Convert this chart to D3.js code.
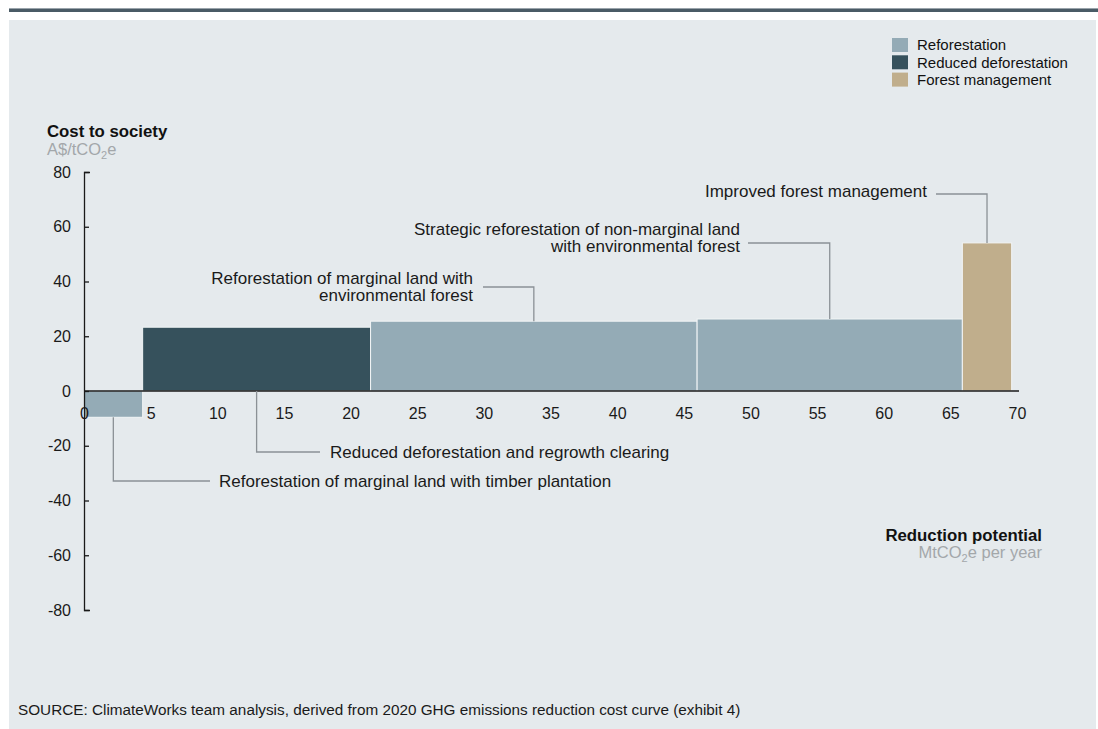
<!DOCTYPE html>
<html>
<head>
<meta charset="utf-8">
<script src="https://cdn.jsdelivr.net/npm/d3@7"></script>
<style>
  body { margin: 0; background: #ffffff; }
  svg { display: block; font-family: "Liberation Sans", Arial, sans-serif; }
</style>
</head>
<body>
<svg id="chart" width="1098" height="729"></svg>
<script>
// levers on the cost curve, left to right
var levers = ["Reforestation of marginal land with timber plantation",
              "Reduced deforestation and regrowth clearing",
              "Reforestation of marginal land with environmental forest",
              "Strategic reforestation of non-marginal land with environmental forest",
              "Improved forest management"];
var leverTypes = ["Reforestation", "Reduced deforestation", "Reforestation", "Reforestation", "Forest management"];
var reductionPotential = [4.4, 17.1, 24.5, 19.9, 3.7];   // MtCO2e per year (bar width)
var costToSociety = [-9.6, 23.3, 25.5, 26.3, 54.1];      // A$/tCO2e (bar height)

var legendItems = ["Reforestation", "Reduced deforestation", "Forest management"];
var xTicks = [0, 5, 10, 15, 20, 25, 30, 35, 40, 45, 50, 55, 60, 65, 70];
var yTicks = [-80, -60, -40, -20, 0, 20, 40, 60, 80];

var colors = {
	"Reforestation": "#94abb6",
	"Reduced deforestation": "#36515c",
	"Forest management": "#c0ae8c"
};

var svg = d3.select("#chart");

// header rule + panel
svg.append("rect").attr("x", 9).attr("y", 8).attr("width", 1089).attr("height", 1).attr("fill", "#9aa4ab");
svg.append("rect").attr("x", 9).attr("y", 9).attr("width", 1089).attr("height", 3).attr("fill", "#4a5b66");
svg.append("rect").attr("x", 9).attr("y", 20).attr("width", 1087).attr("height", 709).attr("fill", "#e5eaed");

var x = d3.scaleLinear().domain([0, 70]).range([84, 1017]);
var y = d3.scaleLinear().domain([-80, 80]).range([610, 172]);

// bars
var start = 0;
var bars = levers.map(function(name, i) {
	var b = {name: name, type: leverTypes[i], x0: start, x1: start + reductionPotential[i], cost: costToSociety[i]};
	start = b.x1;
	return b;
});

svg.selectAll(".bar").data(bars).enter().append("rect")
	.attr("class", "bar")
	.attr("x", function(d) { return x(d.x0); })
	.attr("width", function(d) { return x(d.x1) - x(d.x0); })
	.attr("y", function(d) { return y(Math.max(0, d.cost)); })
	.attr("height", function(d) { return Math.abs(y(d.cost) - y(0)); })
	.attr("fill", function(d) { return colors[d.type]; })
	.attr("stroke", "#f2f5f6")
	.attr("stroke-width", 1);

// axes
var plain = function(d) { return String(d); };
var yAxis = d3.axisLeft(y).tickValues(yTicks).tickFormat(plain).tickSizeInner(-5).tickSizeOuter(-6).tickPadding(13);
var gy = svg.append("g").attr("transform", "translate(" + x(0) + ",0)").call(yAxis);
var xAxis = d3.axisBottom(x).tickValues(xTicks).tickFormat(plain).tickSize(0).tickPadding(17);
var gx = svg.append("g").attr("transform", "translate(0," + y(0) + ")").call(xAxis);

[gx, gy].forEach(function(g) {
	g.selectAll("path, line").attr("stroke", "#1a1a1a").attr("stroke-width", 1.3);
	g.selectAll("text").attr("font-size", 16).attr("fill", "#1a1a1a")
		.attr("font-family", "Liberation Sans, Arial, sans-serif");
});
gx.select(".domain").attr("d", "M" + x(0) + ",0H" + (x(70) + 2));

// axis titles
svg.append("text").attr("x", 47).attr("y", 137).attr("font-size", 16.8).attr("font-weight", "bold")
	.attr("fill", "#111").text("Cost to society");
var yu = svg.append("text").attr("x", 47).attr("y", 155).attr("font-size", 16.5).attr("fill", "#a3a7aa");
yu.append("tspan").text("A$/tCO");
yu.append("tspan").attr("font-size", 11).attr("dy", 4).text("2");
yu.append("tspan").attr("dy", -4).text("e");

svg.append("text").attr("x", 1042).attr("y", 541).attr("text-anchor", "end").attr("font-size", 16.8)
	.attr("font-weight", "bold").attr("fill", "#111").text("Reduction potential");
var xu = svg.append("text").attr("x", 1042).attr("y", 558).attr("text-anchor", "end")
	.attr("font-size", 16.5).attr("fill", "#a3a7aa");
xu.append("tspan").text("MtCO");
xu.append("tspan").attr("font-size", 11).attr("dy", 4).text("2");
xu.append("tspan").attr("dy", -4).text("e per year");

// legend
var legend = svg.selectAll(".legend").data(legendItems).enter().append("g")
	.attr("class", "legend")
	.attr("transform", function(d, i) { return "translate(892," + (38 + i * 17.3) + ")"; });
legend.append("rect").attr("width", 16).attr("height", 14).attr("fill", function(d) { return colors[d]; });
legend.append("text").attr("x", 25).attr("y", 7).attr("dy", "0.35em").attr("font-size", 15)
	.attr("fill", "#111").text(function(d) { return d; });

// leader lines and labels
var notes = [
	{bar: 0, yEnd: 481, xEnd: 210, lines: ["Reforestation of marginal land with timber plantation"], tx: 219, anchor: "start", ty: [481]},
	{bar: 1, yEnd: 452, xEnd: 320, lines: ["Reduced deforestation and regrowth clearing"], tx: 330, anchor: "start", ty: [452]},
	{bar: 2, yEnd: 287, xEnd: 483, lines: ["Reforestation of marginal land with", "environmental forest"], tx: 473, anchor: "end", ty: [278, 295]},
	{bar: 3, yEnd: 243, xEnd: 748, lines: ["Strategic reforestation of non-marginal land", "with environmental forest"], tx: 740, anchor: "end", ty: [229, 246]},
	{bar: 4, yEnd: 194, xEnd: 936, lines: ["Improved forest management"], tx: 927, anchor: "end", ty: [191]}
];

notes.forEach(function(n) {
	var b = bars[n.bar];
	var cx = x((b.x0 + b.x1) / 2);
	var y0 = b.cost < 0 ? y(b.cost) : (n.yEnd > y(0) ? y(0) : y(b.cost));
	svg.append("path")
		.attr("d", "M" + cx + "," + y0 + "V" + n.yEnd + "H" + n.xEnd)
		.attr("fill", "none")
		.attr("stroke", "#8b9196")
		.attr("stroke-width", 1.3);
	n.lines.forEach(function(line, j) {
		svg.append("text")
			.attr("x", n.tx)
			.attr("y", n.ty[j])
			.attr("dy", "0.35em")
			.attr("text-anchor", n.anchor)
			.attr("font-size", 17)
			.attr("fill", "#1a1a1a")
			.text(line);
	});
});

svg.append("text").attr("x", 18).attr("y", 710).attr("dy", "0.35em").attr("font-size", 15.3)
	.attr("fill", "#1a1a1a")
	.text("SOURCE: ClimateWorks team analysis, derived from 2020 GHG emissions reduction cost curve (exhibit 4)");
</script>
</body>
</html>
